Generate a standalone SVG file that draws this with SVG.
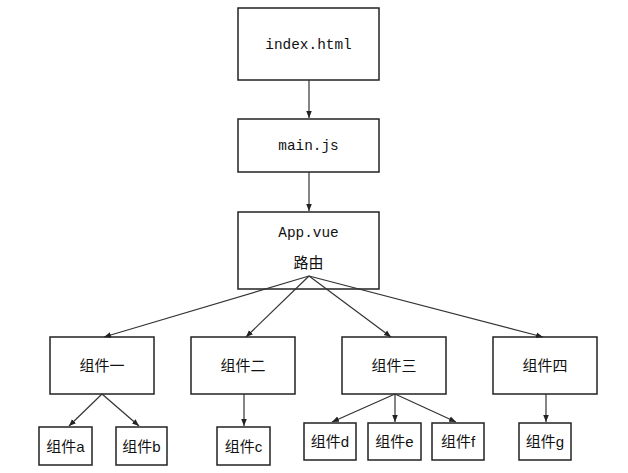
<svg xmlns="http://www.w3.org/2000/svg" width="628" height="473" viewBox="0 0 628 473">
<defs>
<marker id="ah" viewBox="0 0 10 10" refX="10" refY="5" markerWidth="7" markerHeight="7" orient="auto" markerUnits="userSpaceOnUse">
<path d="M0,1 L10,5 L0,9 Z" fill="#222"/>
</marker>
<style>
rect{fill:#fff;stroke:#222;stroke-width:1.5}
.c line{stroke:#333;stroke-width:1.2;marker-end:url(#ah)}
.m{font-family:"Liberation Mono",monospace;font-size:14.4px;fill:#111;text-anchor:middle}
.z{font-family:"Liberation Sans","Noto Sans CJK SC",sans-serif;font-size:15px;fill:#111;text-anchor:middle}
</style>
</defs>
<rect x="0" y="0" width="628" height="473" style="fill:#fff;stroke:none"/>
<g id="index"><rect x="238" y="8" width="141" height="72"/><text class="m" x="308.5" y="49">index.html</text></g>
<g id="main"><rect x="238" y="119" width="141" height="53"/><text class="m" x="308.5" y="150">main.js</text></g>
<g id="app"><rect x="238" y="212" width="141" height="77"/><text class="m" x="308.5" y="237">App.vue</text><text class="z" x="308.5" y="268">路由</text></g>
<g id="c1"><rect x="50" y="337" width="104" height="57"/><text class="z" x="102" y="371">组件一</text></g>
<g id="c2"><rect x="191" y="337" width="104" height="57"/><text class="z" x="243" y="371">组件二</text></g>
<g id="c3"><rect x="342" y="337" width="104" height="57"/><text class="z" x="394" y="371">组件三</text></g>
<g id="c4"><rect x="493" y="337" width="104" height="57"/><text class="z" x="545" y="371">组件四</text></g>
<g id="ca"><rect x="39" y="427" width="53" height="38"/><text class="z" x="65.5" y="452">组件a</text></g>
<g id="cb"><rect x="116" y="427" width="51" height="38"/><text class="z" x="141.5" y="452">组件b</text></g>
<g id="cc"><rect x="217" y="427" width="53" height="38"/><text class="z" x="243.5" y="452">组件c</text></g>
<g id="cd"><rect x="304" y="423" width="52" height="37"/><text class="z" x="330" y="447">组件d</text></g>
<g id="ce"><rect x="368" y="423" width="53" height="37"/><text class="z" x="394.5" y="447">组件e</text></g>
<g id="cf"><rect x="432" y="423" width="52" height="37"/><text class="z" x="458" y="447">组件f</text></g>
<g id="cg"><rect x="519" y="423" width="52" height="37"/><text class="z" x="545" y="447">组件g</text></g>
<g class="c" id="connectors">
<line x1="309" y1="80" x2="309" y2="118"/>
<line x1="309" y1="172" x2="309" y2="211"/>
<line x1="309" y1="276" x2="104" y2="337"/>
<line x1="309" y1="276" x2="246" y2="337"/>
<line x1="309" y1="276" x2="391" y2="337"/>
<line x1="309" y1="276" x2="543" y2="337"/>
<line x1="102" y1="394" x2="69" y2="426"/>
<line x1="102" y1="394" x2="139" y2="426"/>
<line x1="244" y1="394" x2="244" y2="426"/>
<line x1="395" y1="394" x2="332" y2="422"/>
<line x1="395" y1="394" x2="395" y2="422"/>
<line x1="395" y1="394" x2="456" y2="422"/>
<line x1="546" y1="394" x2="546" y2="422"/>
</g>
</svg>
